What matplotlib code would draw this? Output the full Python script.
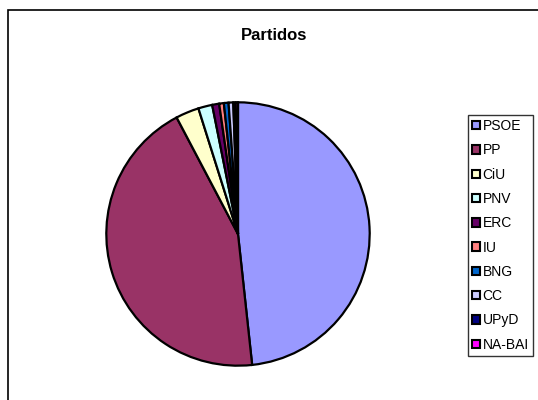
import matplotlib.pyplot as plt
from matplotlib.patches import Rectangle, Patch

plt.rcParams['font.family'] = ['Liberation Sans', 'DejaVu Sans']

partidos = ['PSOE', 'PP', 'CiU', 'PNV', 'ERC', 'IU', 'BNG', 'CC', 'UPyD', 'NA-BAI']
escanos = [169, 154, 10, 6, 3, 2, 2, 2, 1, 1]
colores = ['#9999FF', '#993366', '#FFFFCC', '#CCFFFF', '#660066',
           '#FF8080', '#0066CC', '#CCCCFF', '#000080', '#FF00FF']

W, H = 538, 400
fig = plt.figure(figsize=(W / 100, H / 100), dpi=100)

# outer chart frame (cropped at right and bottom like the original)
fig.patches.append(Rectangle((8 / W, -0.1), 1.2, (H - 10) / H + 0.1,
                             transform=fig.transFigure, fill=False,
                             edgecolor='black', linewidth=1.2))

# pie: centre (238, 234), radius 133 px
cx, cy, r = 238, 234, 133
ax = fig.add_axes([(cx - r) / W, (H - cy - r) / H, 2 * r / W, 2 * r / H])
ax.pie(escanos, colors=colores, startangle=90, counterclock=False,
       wedgeprops=dict(edgecolor='black', linewidth=1.6))
ax.set_xlim(-1.01, 1.01)
ax.set_ylim(-1.01, 1.01)
ax.set_aspect('auto')
ax.axis('off')

fig.text(274 / W, 1 - 36 / H, 'Partidos', ha='center', va='center',
         fontsize=12, fontweight='bold')

handles = [Patch(facecolor=c, edgecolor='black', linewidth=1.5) for c in colores]
leg = fig.legend(handles, partidos, loc='upper left',
                 bbox_to_anchor=(468 / W, 1 - 115 / H),
                 fontsize=10, frameon=True, fancybox=False,
                 edgecolor='black', handlelength=0.55, handleheight=0.55,
                 handletextpad=0.2, labelspacing=0.74, borderpad=0.3,
                 borderaxespad=0)
leg.get_frame().set_linewidth(1.0)

fig.savefig('out.png', dpi=100)
